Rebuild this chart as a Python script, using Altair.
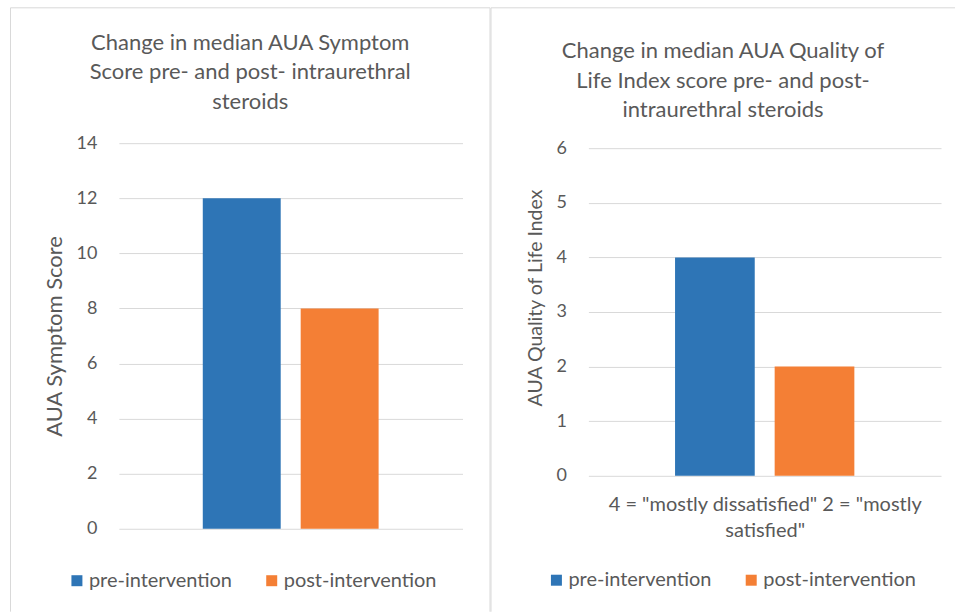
import altair as alt
import pandas as pd

# ---- data ----
series = ["pre-intervention", "post-intervention"]
symptom_scores = [12, 8]
qol_scores = [4, 2]
colors = ["#2E75B6", "#F47F35"]

left_title = ["Change in median AUA Symptom", "Score pre- and post- intraurethral", "steroids"]
right_title = ["Change in median AUA Quality of", "Life Index score pre- and post-", "intraurethral steroids"]
left_ytitle = "AUA Symptom Score"
right_ytitle = "AUA Quality of Life Index"
right_xtitle = ['4 = "mostly dissatisfied" 2 = "mostly', 'satisfied"']

FONT = "Lato"
GRAY = "#595959"
BORDER = "#D9D9D9"


def border_rules(x1, x2, y1, y2, right_edge=True):
    base = alt.Chart(pd.DataFrame({"k": [0]}))
    layers = [
        base.mark_rule(color=BORDER, strokeWidth=1).encode(
            x=alt.value(x1), y=alt.value(y1), y2=alt.value(y2)),
        base.mark_rule(color=BORDER, strokeWidth=1).encode(
            x=alt.value(x1), x2=alt.value(x2), y=alt.value(y1)),
    ]
    if right_edge:
        layers.append(base.mark_rule(color=BORDER, strokeWidth=1).encode(
            x=alt.value(x2), y=alt.value(y1), y2=alt.value(y2)))
    return layers


def panel(values, width, height, ymax, yrange, title_lines, title_offset, ytitle,
          ytitle_size, ytitle_y, xtitle, pad_inner, pad_outer, leg_x, leg_y, frame):
    df = pd.DataFrame({"series": series, "value": values})
    xaxis = alt.Axis(labels=False, ticks=False, domain=False, grid=False,
                     title=xtitle if xtitle else None,
                     titleFont=FONT, titleFontSize=20, titleColor=GRAY,
                     titleFontWeight="normal", titlePadding=19, titleLineHeight=26)
    yaxis_kw = dict(values=list(range(0, ymax + 1, 2 if ymax > 6 else 1)),
                    title=ytitle, titleFont=FONT, titleFontSize=ytitle_size,
                    titleColor=GRAY, titleFontWeight="normal",
                    titlePadding=10, labelFont=FONT, labelFontSize=18,
                    labelColor=GRAY, labelPadding=22, ticks=False,
                    domain=False, grid=True, gridColor=BORDER)
    if ytitle_y is not None:
        yaxis_kw["titleY"] = ytitle_y
    bars = alt.Chart(df).mark_bar().encode(
        x=alt.X("series:N", sort=series,
                scale=alt.Scale(paddingInner=pad_inner, paddingOuter=pad_outer),
                axis=xaxis),
        y=alt.Y("value:Q", scale=alt.Scale(domain=[0, ymax], nice=False, range=yrange),
                axis=alt.Axis(**yaxis_kw)),
        color=alt.Color("series:N", sort=series,
                        scale=alt.Scale(domain=series, range=colors),
                        legend=alt.Legend(orient="none", legendX=leg_x, legendY=leg_y,
                                          direction="horizontal", title=None,
                                          symbolType="square", symbolSize=121,
                                          symbolStrokeWidth=0, symbolOpacity=1,
                                          labelFont=FONT, labelFontSize=20,
                                          labelColor=GRAY, labelOffset=2,
                                          columnPadding=29)),
    )
    layers = frame + [bars]
    return alt.layer(*layers).properties(
        width=width, height=height,
        title=alt.TitleParams(text=title_lines, font=FONT, fontSize=22, color=GRAY,
                              fontWeight="normal", anchor="middle", frame="bounds",
                              baseline="bottom", lineHeight=29.5, offset=title_offset),
    )


left = panel(symptom_scores, 344, 386, 14, [386, 0], left_title, -128.5, left_ytitle,
             22, None, None, 0.204, 0.857, -52, 428,
             border_rules(-108.5, 371.5, -135.5, 469, True))
right = panel(qol_scores, 353, 333, 6, [333, 5], right_title, -137, right_ytitle,
              19.5, 154.5, right_xtitle, 0.2, 0.87, -42, 427.5,
              border_rules(-97.5, 367, -135.5, 469, False))

chart = alt.hconcat(left, right, spacing=0).resolve_scale(color="independent").resolve_legend(
    color="independent").properties(
    padding={"left": 10, "top": 7, "right": 0, "bottom": 0},
    background="white",
).configure_view(stroke=None)

chart.save("out.html", embed_options={"renderer": "svg", "actions": False})
